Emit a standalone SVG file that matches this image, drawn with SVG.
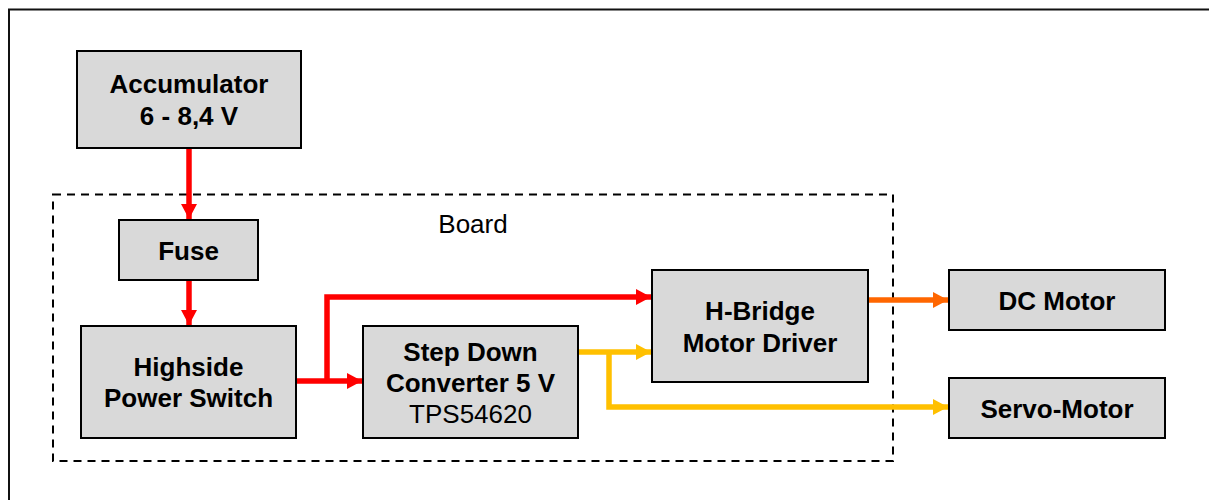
<svg xmlns="http://www.w3.org/2000/svg" width="1209" height="500" viewBox="0 0 1209 500">
<style>
.box{fill:#D9D9D9;stroke:#000;stroke-width:2}
.t{font-family:"Liberation Sans",Arial,sans-serif;font-size:26px;font-weight:bold;text-anchor:middle;fill:#000}
.n{font-weight:normal}
.red{fill:none;stroke:#FF0000;stroke-width:5.5}
.yel{fill:none;stroke:#FFC000;stroke-width:5.5}
.org{fill:none;stroke:#FF6600;stroke-width:5.5}
</style>
<defs>
<marker id="ar" markerUnits="userSpaceOnUse" markerWidth="16" markerHeight="17" refX="15" refY="8" orient="auto"><path d="M0,0 L15,8 L0,16 z" fill="#FF0000"/></marker>
<marker id="ay" markerUnits="userSpaceOnUse" markerWidth="16" markerHeight="17" refX="15" refY="8" orient="auto"><path d="M0,0 L15,8 L0,16 z" fill="#FFC000"/></marker>
<marker id="ao" markerUnits="userSpaceOnUse" markerWidth="16" markerHeight="17" refX="15" refY="8" orient="auto"><path d="M0,0 L15,8 L0,16 z" fill="#FF6600"/></marker>
</defs>
<rect x="0" y="0" width="1209" height="500" fill="#fff"/>
<rect x="9" y="9.5" width="1300" height="600" fill="none" stroke="#111" stroke-width="2"/>
<g id="board">
<rect x="53" y="194.5" width="840" height="266.5" fill="none" stroke="#000" stroke-width="2" stroke-dasharray="8,6"/>
<text class="t n" x="473" y="233">Board</text>
</g>
<g id="connectors">
<path class="red" d="M189,149 V219" marker-end="url(#ar)"/>
<path class="red" d="M189,281 V325" marker-end="url(#ar)"/>
<path class="red" d="M297,381 H362" marker-end="url(#ar)"/>
<path class="red" d="M327,381 V297 H651" marker-end="url(#ar)"/>
<path class="yel" d="M579,352 H651" marker-end="url(#ay)"/>
<path class="yel" d="M609,352 V407 H948" marker-end="url(#ay)"/>
<path class="org" d="M869,300 H948" marker-end="url(#ao)"/>
</g>
<g id="accumulator">
<rect class="box" x="77" y="51" width="224" height="97"/>
<text class="t" x="189" y="93">Accumulator</text>
<text class="t" x="189" y="125">6 - 8,4 V</text>
</g>
<g id="fuse">
<rect class="box" x="119" y="220" width="139" height="60"/>
<text class="t" x="188.5" y="259.5">Fuse</text>
</g>
<g id="highside">
<rect class="box" x="81" y="326" width="215" height="112"/>
<text class="t" x="188.5" y="376">Highside</text>
<text class="t" x="188.5" y="407">Power Switch</text>
</g>
<g id="stepdown">
<rect class="box" x="363" y="326" width="215" height="112"/>
<text class="t" x="470.5" y="361">Step Down</text>
<text class="t" x="470.5" y="392">Converter 5 V</text>
<text class="t n" x="470.5" y="423">TPS54620</text>
</g>
<g id="hbridge">
<rect class="box" x="652" y="270" width="216" height="112"/>
<text class="t" x="760" y="319.5">H-Bridge</text>
<text class="t" x="760" y="351.5">Motor Driver</text>
</g>
<g id="dcmotor">
<rect class="box" x="949" y="270" width="216" height="60"/>
<text class="t" x="1057" y="309.5">DC Motor</text>
</g>
<g id="servo">
<rect class="box" x="949" y="378" width="216" height="60"/>
<text class="t" x="1057" y="417.5">Servo-Motor</text>
</g>
</svg>
